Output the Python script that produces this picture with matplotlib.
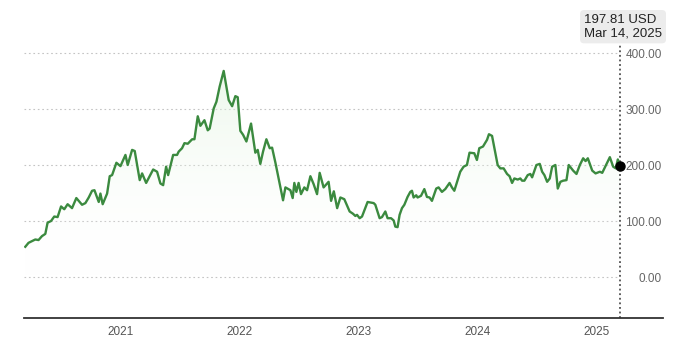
import matplotlib
matplotlib.use("Agg")
import matplotlib.pyplot as plt
import matplotlib.dates as mdates
import numpy as np
import pandas as pd

plt.rcParams['font.family'] = ['Liberation Sans', 'DejaVu Sans']

# Time positions (decimal years) and closing prices (USD)
years = [2020.202, 2020.229, 2020.258, 2020.286, 2020.313, 2020.342, 2020.370, 2020.389,
         2020.418, 2020.445, 2020.473, 2020.502, 2020.529, 2020.557, 2020.594, 2020.630,
         2020.678, 2020.706, 2020.734, 2020.762, 2020.782, 2020.818, 2020.832, 2020.851,
         2020.888, 2020.910, 2020.930, 2020.966, 2021.000, 2021.042, 2021.061, 2021.098,
         2021.120, 2021.162, 2021.182, 2021.216, 2021.275, 2021.308, 2021.336, 2021.359,
         2021.384, 2021.401, 2021.443, 2021.476, 2021.490, 2021.518, 2021.538, 2021.566,
         2021.603, 2021.622, 2021.650, 2021.672, 2021.706, 2021.734, 2021.750, 2021.784,
         2021.807, 2021.834, 2021.868, 2021.910, 2021.939, 2021.966, 2021.986, 2022.008,
         2022.031, 2022.059, 2022.098, 2022.134, 2022.154, 2022.176, 2022.199, 2022.227,
         2022.255, 2022.275, 2022.303, 2022.367, 2022.387, 2022.429, 2022.448, 2022.462,
         2022.479, 2022.498, 2022.518, 2022.546, 2022.569, 2022.597, 2022.624, 2022.653,
         2022.675, 2022.708, 2022.750, 2022.771, 2022.794, 2022.822, 2022.849, 2022.882,
         2022.927, 2022.955, 2022.975, 2022.989, 2023.011, 2023.031, 2023.078, 2023.129,
         2023.143, 2023.179, 2023.199, 2023.227, 2023.246, 2023.275, 2023.297, 2023.311,
         2023.330, 2023.347, 2023.367, 2023.387, 2023.414, 2023.437, 2023.451, 2023.465,
         2023.487, 2023.498, 2023.527, 2023.555, 2023.577, 2023.599, 2023.619, 2023.655,
         2023.675, 2023.703, 2023.731, 2023.767, 2023.787, 2023.807, 2023.857, 2023.885,
         2023.913, 2023.935, 2023.975, 2023.997, 2024.017, 2024.048, 2024.082, 2024.098,
         2024.124, 2024.171, 2024.193, 2024.221, 2024.250, 2024.271, 2024.292, 2024.311,
         2024.339, 2024.361, 2024.376, 2024.395, 2024.423, 2024.445, 2024.460, 2024.496,
         2024.524, 2024.544, 2024.563, 2024.586, 2024.608, 2024.628, 2024.655, 2024.675,
         2024.697, 2024.720, 2024.748, 2024.767, 2024.804, 2024.832, 2024.860, 2024.888,
         2024.908, 2024.927, 2024.964, 2024.992, 2025.028, 2025.048, 2025.084, 2025.112,
         2025.140, 2025.162, 2025.179, 2025.197]
prices = [54, 61, 64, 67, 66, 73, 77, 97,
          100, 108, 107, 126, 121, 130, 123, 141,
          129, 132, 142, 154, 155, 134, 149, 130,
          149, 180, 182, 204, 198, 218, 200, 227,
          225, 173, 185, 168, 192, 188, 167, 164,
          197, 182, 218, 218, 224, 230, 239, 238,
          246, 246, 287, 270, 280, 262, 265, 301,
          313, 340, 368, 316, 305, 323, 321, 261,
          254, 242, 274, 222, 227, 202, 224, 246,
          230, 231, 204, 137, 160, 155, 141, 168,
          152, 168, 148, 160, 155, 180, 166, 148,
          186, 160, 170, 136, 153, 123, 142, 139,
          117, 113, 109, 111, 105, 108, 134, 132,
          129, 105, 107, 117, 105, 105, 101, 90,
          89, 111, 123, 129, 143, 152, 154, 142,
          146, 142, 145, 157, 143, 142, 136, 158,
          160, 152, 157, 168, 160, 154, 188, 197,
          200, 222, 221, 209, 230, 233, 245, 255,
          252, 200, 194, 194, 184, 180, 168, 176,
          174, 176, 172, 172, 182, 184, 178, 200,
          202, 188, 182, 170, 176, 197, 200, 158,
          170, 172, 173, 200, 190, 184, 200, 212,
          207, 212, 190, 185, 188, 186, 202, 214,
          197, 194, 210, 197.81]

y_ticks = [0, 100, 200, 300, 400]
last_label_price = "197.81 USD"
last_label_date = "Mar 14, 2025"
x_start, x_end = "2020-03-11", "2025-07-24"


def to_date(y):
    yr = int(y)
    start = pd.Timestamp(yr, 1, 1)
    ndays = (pd.Timestamp(yr + 1, 1, 1) - start).days
    return start + pd.Timedelta(days=(y - yr) * ndays)


dates = [to_date(y) for y in years]
xd = mdates.date2num(dates)
vals = np.array(prices)

fig = plt.figure(figsize=(6.8, 3.43), dpi=100)
ax = fig.add_axes([24 / 680, 1 - 318 / 343, (663 - 24) / 680, (318 - 10) / 343])
ymin, ymax = -73.2, 476.8
ax.set_ylim(ymin, ymax)
x0 = mdates.date2num(pd.Timestamp(x_start))
x1 = mdates.date2num(pd.Timestamp(x_end))
ax.set_xlim(x0, x1)

# gridlines
ax.hlines(y_ticks, x0, xd[-1] - 8, colors="#c4c4c4", linestyles=(0, (1.5, 2.5)),
          linewidth=0.8, zorder=1)

# gradient fill under line
grad = np.linspace(0, 1, 256).reshape(-1, 1)
cmap = matplotlib.colors.LinearSegmentedColormap.from_list(
    "g", [(1, 1, 1, 0), (0.87, 0.95, 0.86, 0.55)])
im = ax.imshow(grad, extent=[xd[0], xd[-1], 0, vals.max()], origin="lower",
               aspect="auto", cmap=cmap, zorder=2)
poly = ax.fill_between(xd, vals, -20, color="none", lw=0)
path = poly.get_paths()[0]
im.set_clip_path(path, transform=ax.transData)

ax.plot(xd, vals, color="#3b8a3f", lw=1.7, zorder=4, solid_joinstyle="round")

# vertical marker line and point
ax.vlines(xd[-1], ymin, 414, colors="#333333", linestyles=(0, (1.2, 1.8)),
          linewidth=1.1, zorder=3)
ax.plot([xd[-1]], [vals[-1]], "o", color="black", markersize=6.5, zorder=5)

# label box
ax.text(0.9985, (277 - 14) / 0.56, last_label_price + "\n" + last_label_date,
        transform=matplotlib.transforms.blended_transform_factory(ax.transAxes, ax.transData),
        ha="right", va="top", multialignment="left", fontsize=9.5, color="#222222",
        linespacing=1.15,
        bbox=dict(boxstyle="round,pad=0.3,rounding_size=0.3", fc="#ececec", ec="none"),
        zorder=6)

# axes styling
for s in ["top", "left", "right"]:
    ax.spines[s].set_visible(False)
ax.spines["bottom"].set_color("#333333")
ax.spines["bottom"].set_linewidth(1.3)
ax.xaxis.set_major_locator(mdates.YearLocator())
ax.xaxis.set_major_formatter(mdates.DateFormatter("%Y"))
ax.tick_params(axis="x", length=0, pad=6, labelsize=8.5, labelcolor="#555555")

ax.yaxis.tick_right()
ax.set_yticks(y_ticks)
ax.set_yticklabels([f"{v:.2f}" for v in y_ticks])
for lbl in ax.get_yticklabels():
    lbl.set_horizontalalignment("right")
ax.tick_params(axis="y", length=0, pad=-1, labelsize=8.5, labelcolor="#666666")
ax.set_facecolor("none")

fig.savefig("out.png", dpi=100)
